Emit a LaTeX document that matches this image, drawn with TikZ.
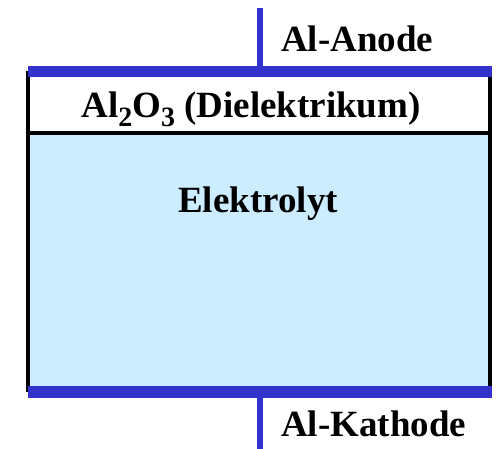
\documentclass[tikz,border=0pt]{standalone}
\usepackage{fontspec}
\setmainfont{Liberation Serif}
\definecolor{barblue}{HTML}{3333CC}
\definecolor{elblue}{HTML}{CCECFF}
\newcommand{\mysub}[1]{\raisebox{-9pt}{\fontsize{28}{28}\selectfont #1}}
\begin{document}
\begin{tikzpicture}[x=1pt,y=-1pt,
  lbl/.style={font=\fontsize{37}{44}\selectfont\bfseries, inner sep=0pt},
  bar/.style={barblue, line width=11.5pt},
  lead/.style={barblue, line width=6pt},
  edge/.style={black, line width=4pt}]
\useasboundingbox (0,0) rectangle (496,449);
% layers
\fill[white] (28,71) rectangle (490,133);
\fill[elblue] (28,133) rectangle (490,392);
\draw[edge] (28,71) -- (28,392);
\draw[edge] (490,71) -- (490,392);
\draw[edge] (28,133) -- (490,133);
% electrodes
\coordinate (ta) at (260,8);
\coordinate (tb) at (260,71);
\coordinate (ba) at (260,392);
\coordinate (bb) at (260,449);
\draw[lead] (ta) -- (tb);
\draw[lead] (ba) -- (bb);
\coordinate (tl) at (28,71.5);
\coordinate (tr) at (492,71.5);
\coordinate (bl) at (28,392);
\coordinate (br) at (492,392);
\draw[bar] (tl) -- (tr);
\draw[bar] (bl) -- (br);
% labels
\node[lbl, anchor=base west] (anode) at (281,52) {Al-Anode};
\node[lbl, anchor=base] (diel) at (251,118) {Al\mysub{2}O\mysub{3} (Dielektrikum)};
\node[lbl, anchor=base] (elek) at (258,213) {Elektrolyt};
\node[lbl, anchor=base west] (kath) at (281,437) {Al-Kathode};
\end{tikzpicture}
\end{document}
